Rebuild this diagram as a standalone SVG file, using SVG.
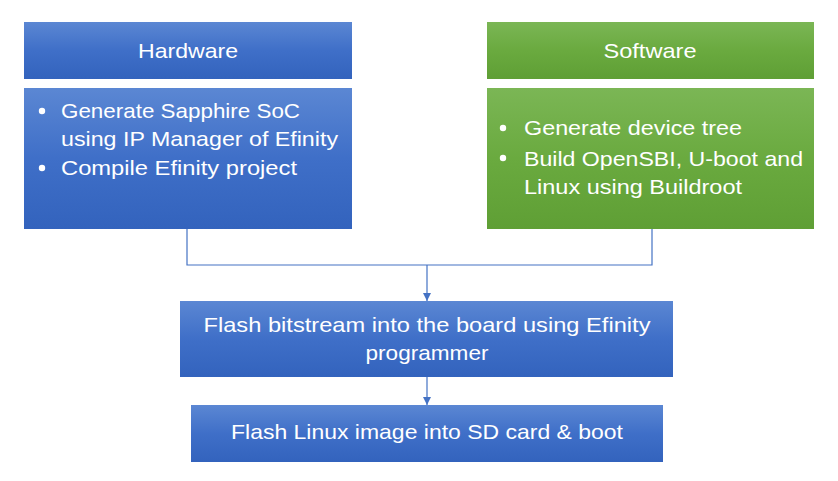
<svg xmlns="http://www.w3.org/2000/svg" width="838" height="481" viewBox="0 0 838 481">
<defs>
<linearGradient id="gb" x1="0" y1="0" x2="0" y2="1"><stop offset="0" stop-color="#5b87d3"/><stop offset="0.5" stop-color="#3f6fc8"/><stop offset="1" stop-color="#3363bd"/></linearGradient>
<linearGradient id="gg" x1="0" y1="0" x2="0" y2="1"><stop offset="0" stop-color="#7bb655"/><stop offset="0.5" stop-color="#6aaa3f"/><stop offset="1" stop-color="#5f9f35"/></linearGradient>
<marker id="ah" viewBox="0 0 10 10" refX="10" refY="5" markerWidth="8" markerHeight="8" markerUnits="userSpaceOnUse" orient="auto"><path d="M0,0 L10,5 L0,10 z" fill="#4472c4"/></marker>
</defs>
<style>
text{font-family:"Liberation Sans",Arial,sans-serif;font-size:21px;fill:#ffffff}
.c{text-anchor:middle}
.b{stroke:none}
.ln{fill:none;stroke:#4472c4;stroke-width:1.2}
</style>
<rect width="838" height="481" fill="#ffffff"/>
<g id="connectors">
<polyline class="ln" points="187,229 187,265 652,265 652,229"/>
<line class="ln" x1="427" y1="265" x2="427" y2="301" marker-end="url(#ah)"/>
<line class="ln" x1="427" y1="377" x2="427" y2="405" marker-end="url(#ah)"/>
</g>
<g id="hardware-header">
<rect x="24" y="22" width="328" height="57" fill="url(#gb)"/>
<text class="c" x="188" y="58" textLength="100" lengthAdjust="spacingAndGlyphs">Hardware</text>
</g>
<g id="hardware-body">
<rect x="24" y="88" width="328" height="141" fill="url(#gb)"/>
<circle cx="42" cy="111" r="3.2" fill="#fff"/>
<text x="61" y="118" textLength="239" lengthAdjust="spacingAndGlyphs">Generate Sapphire SoC</text>
<text x="61" y="146" textLength="277" lengthAdjust="spacingAndGlyphs">using IP Manager of Efinity</text>
<circle cx="42" cy="168" r="3.2" fill="#fff"/>
<text x="61" y="175" textLength="236" lengthAdjust="spacingAndGlyphs">Compile Efinity project</text>
</g>
<g id="software-header">
<rect x="487" y="22" width="327" height="57" fill="url(#gg)"/>
<text class="c" x="650" y="58" textLength="93" lengthAdjust="spacingAndGlyphs">Software</text>
</g>
<g id="software-body">
<rect x="487" y="88" width="327" height="141" fill="url(#gg)"/>
<circle cx="503" cy="128" r="3.2" fill="#fff"/>
<text x="524" y="135" textLength="218" lengthAdjust="spacingAndGlyphs">Generate device tree</text>
<circle cx="503" cy="158" r="3.2" fill="#fff"/>
<text x="524" y="166" textLength="279" lengthAdjust="spacingAndGlyphs">Build OpenSBI, U-boot and</text>
<text x="524" y="194" textLength="218" lengthAdjust="spacingAndGlyphs">Linux using Buildroot</text>
</g>
<g id="flash-bitstream">
<rect x="180" y="301" width="493" height="76" fill="url(#gb)"/>
<text class="c" x="427" y="332" textLength="447" lengthAdjust="spacingAndGlyphs">Flash bitstream into the board using Efinity</text>
<text class="c" x="427" y="360" textLength="123" lengthAdjust="spacingAndGlyphs">programmer</text>
</g>
<g id="flash-linux">
<rect x="191" y="405" width="472" height="57" fill="url(#gb)"/>
<text class="c" x="427" y="439" textLength="392" lengthAdjust="spacingAndGlyphs">Flash Linux image into SD card &amp; boot</text>
</g>
</svg>
